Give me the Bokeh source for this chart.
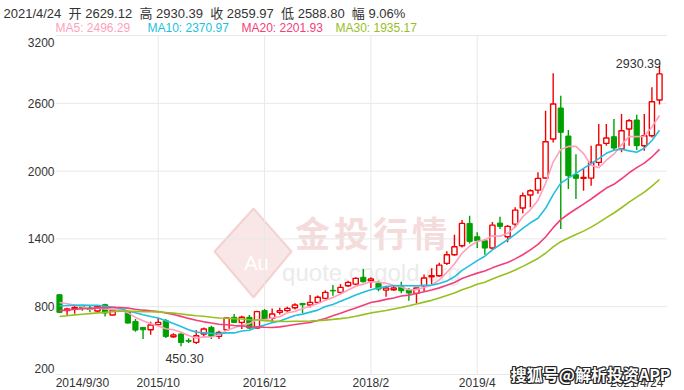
import numpy as np
from bokeh.plotting import figure
from bokeh.models import Range1d, Label, PolyAnnotation
from bokeh.embed import file_html
from bokeh.resources import INLINE

# ---------------- data (monthly candles 2014/9 .. 2021/4) ----------------
opens = [906, 767, 782, 800, 788, 762, 818, 727, 760, 759,
         670, 617, 596, 641, 676, 534, 558, 500, 484, 558,
         617, 537, 596, 706, 661, 706, 611, 765, 697, 750,
         765, 791, 829, 815, 838, 874, 945, 927, 986, 1000,
         1060, 1030, 1006, 947, 950, 977, 947, 918, 986, 1065,
         1074, 1183, 1260, 1340, 1537, 1419, 1384, 1319, 1540, 1419,
         1531, 1673, 1788, 1832, 1939, 2284, 2558, 2310, 1968, 1936,
         1938, 2077, 2245, 2304, 2195, 2372, 2452, 2225, 2313, 2629.12]
highs = [912, 791, 803, 815, 815, 815, 826, 771, 768, 765,
         691, 620, 667, 700, 691, 564, 565, 520, 593, 617,
         632, 588, 706, 735, 720, 726, 765, 780, 785, 790,
         800, 830, 830, 903, 900, 945, 992, 1000, 1030, 1060,
         1133, 1060, 1030, 986, 986, 1020, 965, 965, 1085, 1140,
         1190, 1290, 1437, 1567, 1605, 1458, 1399, 1550, 1596, 1522,
         1680, 1810, 1840, 1990, 2534, 2865, 2667, 2363, 2150, 2018,
         2225, 2416, 2416, 2461, 2505, 2461, 2499, 2505, 2741, 2930.39]
lows = [745, 727, 738, 765, 750, 750, 714, 725, 752, 652,
        579, 514, 552, 635, 523, 526, 450.30, 478, 470, 537,
        514, 514, 588, 655, 602, 602, 608, 682, 667, 730,
        755, 775, 744, 794, 825, 865, 897, 915, 975, 990,
        1015, 965, 936, 888, 940, 920, 853, 829, 940, 1000,
        1065, 1170, 1251, 1325, 1360, 1319, 1260, 1305, 1487, 1370,
        1500, 1627, 1680, 1800, 1930, 2254, 1487, 1841, 1753, 1826,
        1871, 2048, 2225, 2180, 2166, 2225, 2186, 2180, 2298, 2588.80]
closes = [750, 780, 794, 788, 775, 803, 744, 771, 763, 655,
          593, 596, 638, 661, 537, 549, 484, 494, 543, 602,
          537, 573, 700, 661, 706, 611, 756, 691, 735, 765,
          785, 815, 817, 838, 883, 927, 940, 971, 1015, 1051,
          1021, 1045, 956, 965, 965, 941, 921, 965, 1054, 1074,
          1168, 1260, 1331, 1537, 1378, 1384, 1319, 1522, 1511, 1511,
          1655, 1782, 1826, 1936, 2260, 2594, 2343, 1959, 1936, 1944,
          2077, 2231, 2293, 2204, 2357, 2446, 2225, 2313, 2614, 2859.97]
# monthly closes before the first visible candle (needed for the moving averages)
prior_closes = [580, 590, 600, 610, 605, 615, 620, 625, 630, 645,
                660, 680, 690, 700, 710, 720, 735, 750, 770, 795,
                760, 770, 780, 790, 800, 830, 850, 870, 884]

x_tick_pos = [0, 13, 27, 41, 55, 79]
x_tick_labels = ["2014/9/30", "2015/10", "2016/12", "2018/2", "2019/4", "2021/4/24"]
y_ticks = [200, 800, 1400, 2000, 2600, 3200]

SP = "\u00a0"
info_parts = ["2021/4/24", "开 2629.12", "高 2930.39", "收 2859.97", "低 2588.80", "幅 9.06%"]
info_text = (SP * 2).join(s.replace(" ", SP) for s in info_parts)
ma_names = ["MA5", "MA10", "MA20", "MA30"]
ma_windows = [5, 10, 20, 30]
ma_last = ["2496.29", "2370.97", "2201.93", "1935.17"]
ma_colors = ["#ff9fbd", "#22bfe0", "#f23f79", "#97c01f"]

RED = "#f20000"
GREEN = "#00a000"
TXT = "#333333"
GRID = "#e8e8e8"
FONT = "'Liberation Sans', 'Noto Sans CJK SC', sans-serif"
CJK = "'Noto Sans CJK SC', sans-serif"

n = len(closes)
o = np.array(opens, float); h = np.array(highs, float)
l = np.array(lows, float); c = np.array(closes, float)
x = np.arange(n)
full = np.array(prior_closes + closes, float)
npre = len(prior_closes)

def ma(w):
    return np.array([full[npre + i - w + 1: npre + i + 1].mean() for i in range(n)])

# ---------------- geometry (page pixels) ----------------
W, H = 684, 390
PL, PR, PT, PB = 55.2, 662.8, 35.0, 374.0      # plotting area inside the canvas
slot = (PR - PL) / n
k = (PB - PT) / (y_ticks[-1] - y_ticks[0])
x_start = -0.5 - PL / slot
x_end = n - 0.5 + (W - PR) / slot
y_start = y_ticks[0] - (H - PB) / k
y_end = y_ticks[-1] + PT / k

def xr(px):  # page pixel -> data x
    return -0.5 + (px - PL) / slot
def yr(py):  # page pixel -> data y
    return y_ticks[0] + (PB - py) / k

p = figure(width=W, height=H, output_backend="svg", toolbar_location=None,
           x_range=Range1d(x_start, x_end), y_range=Range1d(y_start, y_end),
           min_border=0, min_border_left=0, min_border_right=0,
           min_border_top=0, min_border_bottom=0)
p.outline_line_color = None
p.background_fill_color = "white"
p.border_fill_color = "white"
p.axis.visible = False
p.xgrid.visible = False
p.ygrid.visible = False

# grid lines (drawn from tick values)
p.segment(x0=[-0.5] * len(y_ticks), y0=y_ticks, x1=[n - 0.5 + 0.5] * len(y_ticks), y1=y_ticks,
          line_color=GRID, line_width=1)
inner = x_tick_pos[1:-1]
p.segment(x0=inner, y0=[y_ticks[0]] * len(inner), x1=inner, y1=[y_ticks[-1]] * len(inner),
          line_color=GRID, line_width=1)

# watermark (behind)
p.add_layout(PolyAnnotation(xs=[xr(214), xr(253), xr(291), xr(253)],
                            ys=[yr(251), yr(208), yr(251), yr(297)],
                            fill_color="#f3cfcf", fill_alpha=0.5, line_color="#ecbcbc",
                            line_alpha=0.6, line_width=2, level="underlay"))
p.add_layout(Label(x=xr(256), y=yr(262), text="Au", text_color="white",
                   text_font=FONT, text_font_size="20px",
                   text_align="center", text_baseline="middle", level="underlay"))
for ch, cx in zip("金投行情", [312, 351, 390, 429]):
    p.add_layout(Label(x=xr(cx), y=yr(231), text=ch, text_color="#f5dcdc",
                       text_font=CJK, text_font_size="35px", text_font_style="bold",
                       text_align="center", text_baseline="middle", level="underlay"))
p.add_layout(Label(x=xr(371), y=yr(272), text="quote.cngold.org", text_color="#ebebeb",
                   text_font=FONT, text_font_size="24px",
                   text_align="center", text_baseline="middle", level="underlay"))

# candles
up = c >= o
dn = ~up
p.segment(x[up], h[up], x[up], l[up], line_color=RED, line_width=1.4)
p.segment(x[dn], h[dn], x[dn], l[dn], line_color=GREEN, line_width=1.4)
p.vbar(x=x[up], width=0.68, top=np.maximum(o, c)[up], bottom=np.minimum(o, c)[up],
       fill_color="white", line_color=RED, line_width=1.4)
p.vbar(x=x[dn], width=0.68, top=np.maximum(o, c)[dn], bottom=np.minimum(o, c)[dn],
       fill_color=GREEN, line_color=GREEN, line_width=1)

# moving averages
for w, col in zip(ma_windows, ma_colors):
    p.line(x, ma(w), line_color=col, line_width=1.6)

# extreme labels
imax = int(np.argmax(h)); imin = int(np.argmin(l))
p.add_layout(Label(x=imax, y=h[imax], text=f"{h[imax]:.2f}", text_align="right",
                   text_baseline="alphabetic", x_offset=1.5, y_offset=2, text_color=TXT,
                   text_font=FONT, text_font_size="12.5px"))
p.add_layout(Label(x=imin, y=l[imin], text=f"{l[imin]:.2f}", text_align="center",
                   text_baseline="alphabetic", x_offset=3.5, y_offset=-12, text_color=TXT,
                   text_font=FONT, text_font_size="12.5px"))

# y tick labels (edge labels are kept inside the plotting area)
for v in y_ticks:
    fy = PB - (v - y_ticks[0]) * k
    fy = min(max(fy, PT + 6.7), PB - 6.0)
    p.add_layout(Label(x=xr(54), y=yr(fy), text=str(v),
                       text_align="right", text_baseline="middle", text_color=TXT,
                       text_font=FONT, text_font_size="12px"))
# x tick labels
for i, (t, s) in enumerate(zip(x_tick_pos, x_tick_labels)):
    if i == 0:
        xx, al = -0.5, "left"
    elif i == len(x_tick_pos) - 1:
        xx, al = n - 0.5, "right"
    else:
        xx, al = t, "center"
    p.add_layout(Label(x=xx, y=yr(382.5), text=s, text_align=al, text_baseline="middle",
                       text_color=TXT, text_font=FONT, text_font_size="12px"))

# header texts
p.add_layout(Label(x=xr(3), y=yr(13), text=info_text, text_align="left",
                   text_baseline="middle", text_color=TXT,
                   text_font=FONT, text_font_size="13px"))
legend_x = [55, 147, 241, 335]
for name, val, col, lx in zip(ma_names, ma_last, ma_colors, legend_x):
    p.add_layout(Label(x=xr(lx), y=yr(27), text=f"{name}: {val}", text_align="left",
                       text_baseline="middle", text_color=col,
                       text_font=FONT, text_font_size="12px"))

# source watermark bottom-right (white text, dark outline)
wm = "搜狐号@解析投资APP"
for dx, dy in [(-1, 0), (1, 0), (0, -1), (0, 1), (-1, -1), (1, 1), (-1, 1), (1, -1)]:
    p.add_layout(Label(x=xr(670), y=yr(373), text=wm, text_align="right",
                       text_baseline="middle", x_offset=dx, y_offset=dy,
                       text_color="#222222", text_font=CJK, text_font_size="16px",
                       text_font_style="bold"))
p.add_layout(Label(x=xr(670), y=yr(373), text=wm, text_align="right", text_baseline="middle",
                   text_color="white", text_font=CJK, text_font_size="16px",
                   text_font_style="bold"))

open("out.html", "w").write(file_html(p, INLINE))
